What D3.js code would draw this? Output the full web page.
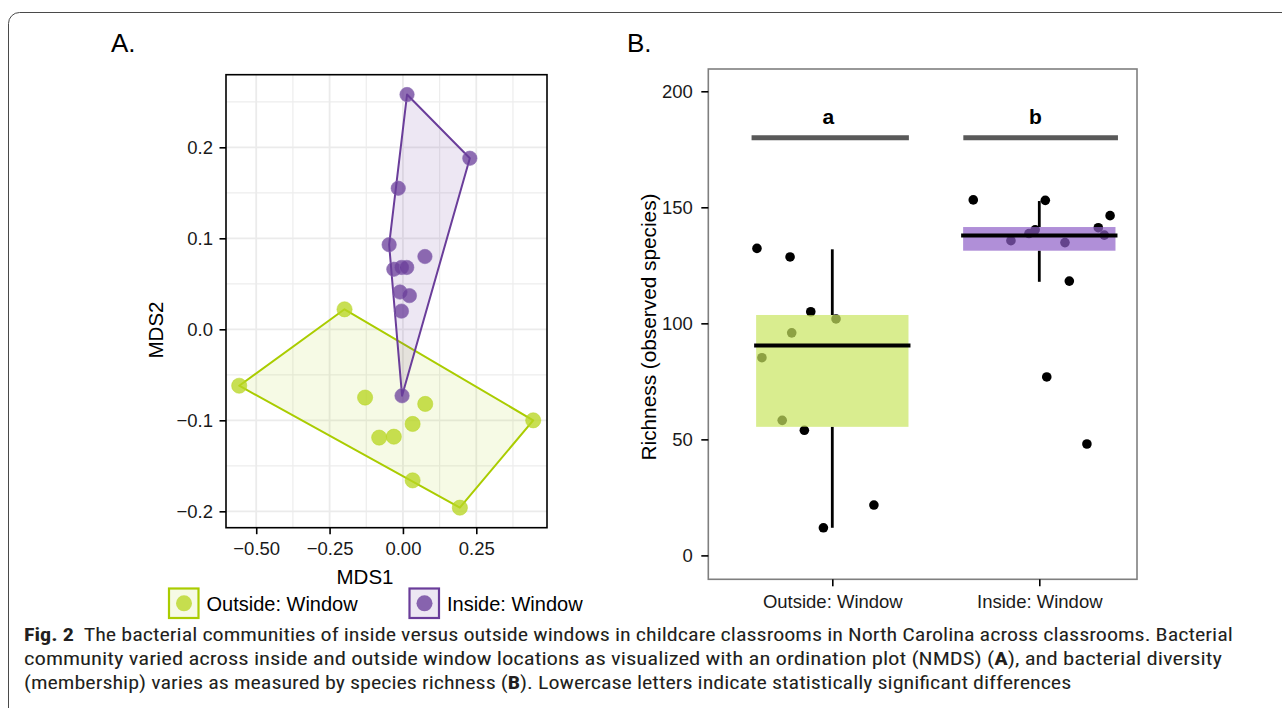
<!DOCTYPE html>
<html><head><meta charset="utf-8">
<script src="https://cdn.jsdelivr.net/npm/d3@7"></script>
<style>
body{margin:0;background:#fff;}
svg{display:block;font-family:"Liberation Sans",Arial,Helvetica,sans-serif;}
</style>
</head><body>
<svg id="c" width="1282" height="708"></svg>
<script>
// ---------- DATA ----------
const groups = ["Outside: Window", "Inside: Window"];

// Panel A: NMDS ordination
const outsideMDS1 = [-0.199, -0.558, -0.129, 0.076, 0.033, 0.444, -0.081, -0.031, 0.033, 0.194];
const outsideMDS2 = [0.022, -0.062, -0.075, -0.082, -0.104, -0.100, -0.119, -0.118, -0.166, -0.196];
const insideMDS1 = [0.014, 0.228, -0.016, -0.047, 0.075, -0.031, -0.005, 0.013, -0.010, 0.022, -0.005, -0.003];
const insideMDS2 = [0.258, 0.188, 0.155, 0.093, 0.080, 0.066, 0.068, 0.068, 0.041, 0.037, 0.020, -0.073];
const mdsXTicks = [-0.5, -0.25, 0, 0.25];
const mdsXMinor = [-0.375, -0.125, 0.125, 0.375];
const mdsYTicks = [-0.2, -0.1, 0, 0.1, 0.2];
const mdsYMinor = [-0.15, -0.05, 0.05, 0.15, 0.25];

// Panel B: richness
const outsideRichness = [132.3, 128.6, 105.0, 101.9, 95.9, 85.2, 58.2, 53.9, 11.9, 21.7];
const outsideJitter   = [-0.364, -0.204, -0.104, 0.018, -0.196, -0.340, -0.242, -0.135, -0.043, 0.201];
const insideRichness  = [153.2, 153.0, 146.4, 141.2, 140.3, 138.7, 138.0, 135.6, 134.8, 118.2, 76.9, 48.0];
const insideJitter    = [-0.319, 0.029, 0.342, 0.285, -0.020, -0.050, 0.314, -0.137, 0.124, 0.145, 0.036, 0.230];
const boxQ1     = [55.4, 131.3];
const boxMedian = [90.5, 137.9];
const boxQ3     = [103.6, 141.5];
const whiskerLo = [11.9, 117.9];
const whiskerHi = [131.9, 152.7];
const sigLetters = ["a", "b"];
const sigLevel = [180, 180];
const sigFrom = [-0.39, -0.367];
const sigTo   = [0.37, 0.38];
const richTicks = [0, 50, 100, 150, 200];

const captionLines = [
  [{t:"Fig. 2", b:true}, {t:"  The bacterial communities of inside versus outside windows in childcare classrooms in North Carolina across classrooms. Bacterial"}],
  [{t:"community varied across inside and outside window locations as visualized with an ordination plot (NMDS) ("}, {t:"A", b:true}, {t:"), and bacterial diversity"}],
  [{t:"(membership) varies as measured by species richness ("}, {t:"B", b:true}, {t:"). Lowercase letters indicate statistically significant differences"}]
];

// ---------- STYLE ----------
const GREEN = "#aacc00", GREEN_PT = "#b8d624", PURPLE = "#6a3d9a";
const BOX_FILL = ["#c9e55f", "#8e5fc7"];
const svg = d3.select("#c");

// frame
svg.append("rect").attr("x", 8.5).attr("y", 12.5).attr("width", 1320).attr("height", 740)
  .attr("rx", 11).attr("fill", "none").attr("stroke", "#4a4a4a").attr("stroke-width", 1);

// ---------- PANEL A ----------
const xA = d3.scaleLinear().domain([-0.603, 0.491]).range([226, 547]);
const yA = d3.scaleLinear().domain([-0.218, 0.2798]).range([527.7, 74.7]);
const gA = svg.append("g");
const [ax0, ax1] = xA.range(), [ay1, ay0] = yA.range();

gA.append("rect").attr("x", ax0).attr("y", ay0).attr("width", ax1 - ax0).attr("height", ay1 - ay0).attr("fill", "#fff");
gA.selectAll(".gxm").data(mdsXMinor).join("line")
  .attr("x1", d => xA(d)).attr("x2", d => xA(d)).attr("y1", ay0).attr("y2", ay1)
  .attr("stroke", "#ededed").attr("stroke-width", 1.2);
gA.selectAll(".gym").data(mdsYMinor).join("line")
  .attr("y1", d => yA(d)).attr("y2", d => yA(d)).attr("x1", ax0).attr("x2", ax1)
  .attr("stroke", "#ededed").attr("stroke-width", 1.2);
gA.selectAll(".gx").data(mdsXTicks).join("line")
  .attr("x1", d => xA(d)).attr("x2", d => xA(d)).attr("y1", ay0).attr("y2", ay1)
  .attr("stroke", "#ebebeb").attr("stroke-width", 1.8);
gA.selectAll(".gy").data(mdsYTicks).join("line")
  .attr("y1", d => yA(d)).attr("y2", d => yA(d)).attr("x1", ax0).attr("x2", ax1)
  .attr("stroke", "#ebebeb").attr("stroke-width", 1.8);

const outsidePts = outsideMDS1.map((x, i) => [x, outsideMDS2[i]]);
const insidePts = insideMDS1.map((x, i) => [x, insideMDS2[i]]);
const line = d3.line().x(d => xA(d[0])).y(d => yA(d[1])).curve(d3.curveLinearClosed);

// hulls
[[outsidePts, GREEN, 0.10], [insidePts, PURPLE, 0.12]].forEach(([pts, col, op]) => {
  const hull = d3.polygonHull(pts);
  gA.append("path").attr("d", line(hull)).attr("fill", col).attr("fill-opacity", op)
    .attr("stroke", col).attr("stroke-width", 2).attr("stroke-linejoin", "round");
});
// points
gA.selectAll(".po").data(outsidePts).join("circle")
  .attr("cx", d => xA(d[0])).attr("cy", d => yA(d[1])).attr("r", 7.6)
  .attr("fill", GREEN_PT).attr("fill-opacity", 0.78).attr("stroke", GREEN_PT).attr("stroke-opacity", 0.5);
gA.selectAll(".pi").data(insidePts).join("circle")
  .attr("cx", d => xA(d[0])).attr("cy", d => yA(d[1])).attr("r", 7.2)
  .attr("fill", PURPLE).attr("fill-opacity", 0.75).attr("stroke", "#8a6bb3").attr("stroke-opacity", 0.6);

gA.append("rect").attr("x", ax0).attr("y", ay0).attr("width", ax1 - ax0).attr("height", ay1 - ay0)
  .attr("fill", "none").attr("stroke", "#000").attr("stroke-width", 1.6);

function styleAxis(g) {
  g.select(".domain").remove();
  g.selectAll(".tick line").attr("stroke", "#000").attr("stroke-width", 1.6);
  g.selectAll(".tick text").attr("font-size", 18.5).attr("fill", "#1a1a1a")
    .attr("font-family", '"Liberation Sans",Arial,sans-serif');
}
svg.append("g").attr("transform", `translate(0,${ay1})`)
  .call(d3.axisBottom(xA).tickValues(mdsXTicks).tickFormat(d3.format(".2f")).tickSize(6.5).tickPadding(7.5))
  .call(styleAxis);
svg.append("g").attr("transform", `translate(${ax0},0)`)
  .call(d3.axisLeft(yA).tickValues(mdsYTicks).tickFormat(d3.format(".1f")).tickSize(6.5).tickPadding(6.5))
  .call(styleAxis);

svg.append("text").attr("x", 365).attr("y", 584).attr("text-anchor", "middle")
  .attr("font-size", 20.5).text("MDS1");
svg.append("text").attr("transform", "translate(163,330) rotate(-90)").attr("text-anchor", "middle")
  .attr("font-size", 20.5).text("MDS2");
svg.append("text").attr("x", 111).attr("y", 52).attr("font-size", 26).text("A.");

// legend
const legend = [
  {label: groups[0], x: 168, col: GREEN, pt: GREEN_PT, op: 0.10},
  {label: groups[1], x: 408.5, col: PURPLE, pt: PURPLE, op: 0.12}
];
legend.forEach(l => {
  svg.append("rect").attr("x", l.x + 1).attr("y", 588.5).attr("width", 29.5).attr("height", 29.5)
    .attr("fill", l.col).attr("fill-opacity", l.op).attr("stroke", l.col).attr("stroke-width", 2.2);
  svg.append("circle").attr("cx", l.x + 16).attr("cy", 603.3).attr("r", 8)
    .attr("fill", l.pt).attr("fill-opacity", 0.78);
  svg.append("text").attr("x", l.x + 38.5).attr("y", 610.5).attr("font-size", 20).text(l.label);
});

// ---------- PANEL B ----------
const xB = d3.scaleLinear().domain([0, 1]).range([832.3, 1039.3]);
const yB = d3.scaleLinear().domain([-10.3, 209.6]).range([579.3, 69]);
const bx0 = xB(-0.599), bx1 = xB(1.472);
const [by1, by0] = yB.range();
const gB = svg.append("g");

const richPts = [];
outsideRichness.forEach((v, i) => richPts.push({g: 0, v, j: outsideJitter[i]}));
insideRichness.forEach((v, i) => richPts.push({g: 1, v, j: insideJitter[i]}));

gB.selectAll(".rp").data(richPts).join("circle")
  .attr("cx", d => xB(d.g + d.j)).attr("cy", d => yB(d.v)).attr("r", 4.8).attr("fill", "#000");

const boxes = groups.map((g, i) => ({i, q1: boxQ1[i], med: boxMedian[i], q3: boxQ3[i], lo: whiskerLo[i], hi: whiskerHi[i]}));
const halfW = 0.368;
// whiskers: hinge to extreme
const whiskers = [];
boxes.forEach(b => { whiskers.push({i: b.i, a: b.q3, z: b.hi}); whiskers.push({i: b.i, a: b.lo, z: b.q1}); });
gB.selectAll(".wh").data(whiskers).join("line")
  .attr("x1", d => xB(d.i)).attr("x2", d => xB(d.i)).attr("y1", d => yB(d.a)).attr("y2", d => yB(d.z))
  .attr("stroke", "#000").attr("stroke-width", 2.8);
gB.selectAll(".bx").data(boxes).join("rect")
  .attr("x", d => xB(d.i - halfW)).attr("width", d => xB(d.i + halfW) - xB(d.i - halfW))
  .attr("y", d => yB(d.q3)).attr("height", d => yB(d.q1) - yB(d.q3))
  .attr("fill", d => BOX_FILL[d.i]).attr("fill-opacity", 0.7);
gB.selectAll(".md").data(boxes).join("line")
  .attr("x1", d => xB(d.i - halfW) - 2).attr("x2", d => xB(d.i + halfW) + 2)
  .attr("y1", d => yB(d.med)).attr("y2", d => yB(d.med))
  .attr("stroke", "#000").attr("stroke-width", 4);

// significance
gB.selectAll(".sg").data(groups).join("line")
  .attr("x1", (d, i) => xB(i + sigFrom[i])).attr("x2", (d, i) => xB(i + sigTo[i]))
  .attr("y1", (d, i) => yB(sigLevel[i])).attr("y2", (d, i) => yB(sigLevel[i]))
  .attr("stroke", "#595959").attr("stroke-width", 5);
gB.selectAll(".sl").data(sigLetters).join("text")
  .attr("x", (d, i) => xB(i) - 4).attr("y", (d, i) => yB(sigLevel[i]) - 13.5)
  .attr("text-anchor", "middle").attr("font-weight", "bold").attr("font-size", 21).text(d => d);

gB.append("rect").attr("x", bx0).attr("y", by0).attr("width", bx1 - bx0).attr("height", by1 - by0)
  .attr("fill", "none").attr("stroke", "#7f7f7f").attr("stroke-width", 1.6);

const xBAxis = d3.scalePoint().domain(groups).range([xB(0), xB(1)]);
svg.append("g").attr("transform", `translate(0,${by1})`)
  .call(d3.axisBottom(xBAxis).tickSize(7).tickPadding(8.5)).call(styleAxis);
svg.append("g").attr("transform", `translate(${bx0},0)`)
  .call(d3.axisLeft(yB).tickValues(richTicks).tickSize(7).tickPadding(8.5)).call(styleAxis);

svg.append("text").attr("transform", "translate(656,327) rotate(-90)").attr("text-anchor", "middle")
  .attr("font-size", 20.8).text("Richness (observed species)");
svg.append("text").attr("x", 627).attr("y", 52).attr("font-size", 26).text("B.");

// ---------- CAPTION ----------
const capY = [641.5, 665.5, 689.5];
const capEnd = [1233, 1223, 1072];
captionLines.forEach((segs, li) => {
  const t = svg.append("text").attr("x", 24).attr("y", capY[li]).attr("font-size", 19)
    .attr("fill", "#231f20").attr("xml:space", "preserve").style("white-space", "pre")
    .attr("font-family", '"Liberation Sans Narrow","Roboto Condensed","DejaVu Sans Condensed","Liberation Sans",sans-serif');
  segs.forEach(s => t.append("tspan").attr("font-weight", s.b ? "bold" : null).text(s.t));
  const w = t.node().getBBox().width;
  const sx = (capEnd[li] - 24) / w;
  t.attr("transform", `translate(24,0) scale(${sx},1) translate(-24,0)`);
});
</script>
</body></html>
